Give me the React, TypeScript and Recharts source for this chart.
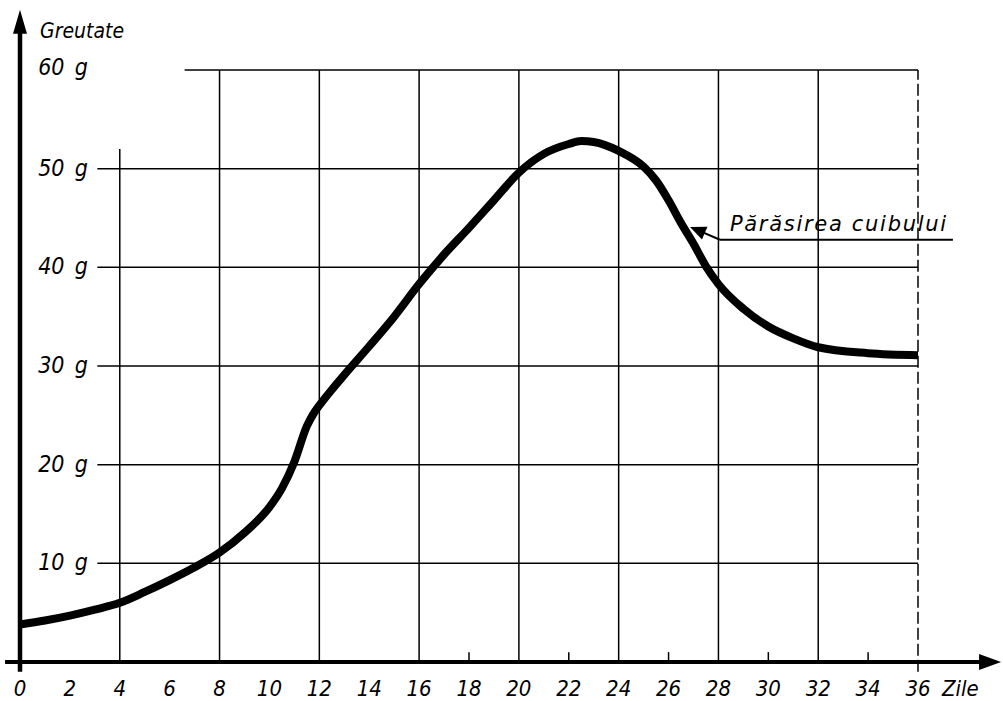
import React from 'react';
import { LineChart, Line, XAxis, YAxis, ReferenceLine } from 'recharts';

// ---- data ----
const days = [0, 1, 2, 3, 4, 5, 6, 7, 8, 9, 10, 10.5, 11, 11.5, 11.75, 12, 12.5, 13, 14, 15, 16, 17, 18, 19, 20, 21, 22, 22.5, 23, 24, 25, 25.5, 26, 26.5, 27, 27.5, 28, 29, 30, 31, 32, 34, 36];
const weights = [3.8, 4.2, 4.7, 5.3, 6.0, 7.1, 8.3, 9.6, 11.1, 13.1, 15.7, 17.6, 20.3, 23.9, 25.1, 26.0, 27.6, 29.1, 32.0, 35.0, 38.3, 41.3, 44.0, 46.8, 49.6, 51.5, 52.5, 52.8, 52.7, 51.8, 50.2, 48.8, 46.8, 44.5, 42.4, 40.1, 38.3, 35.8, 34.0, 32.8, 31.9, 31.3, 31.1];
const xTicks = [0, 2, 4, 6, 8, 10, 12, 14, 16, 18, 20, 22, 24, 26, 28, 30, 32, 34, 36];
const yTicks = [10, 20, 30, 40, 50, 60];
const gridDays = [4, 8, 12, 16, 20, 24, 28, 32];
const gridDayTops = [52, 60, 60, 60, 60, 60, 60, 60];
const gridWeightStarts = [3.1, 3.1, 3.1, 3.1, 3.1, 6.6];
const minorTicks = [18, 22, 26, 30, 34];
const xLabel = 'Zile';
const yLabel = 'Greutate';
const annotationText = 'Părăsirea cuibului';
const annotationTip = { x: 26.86, y: 44.1 };
const annotationStart = { x: 28.06, y: 42.8 };
const annotationEnd = { x: 37.4, y: 42.8 };

const data = days.map((d, i) => ({ day: d, g: weights[i] }));

const FONT = "'DejaVu Sans Condensed', 'DejaVu Sans', sans-serif";

const arrowLine = (p: any, width: number, L: number, W: number) => {
  const { x1, y1, x2, y2 } = p;
  const dx = x2 - x1;
  const dy = y2 - y1;
  const len = Math.hypot(dx, dy) || 1;
  const ux = dx / len;
  const uy = dy / len;
  const bx = x2 - ux * L;
  const by = y2 - uy * L;
  const px = -uy;
  const py = ux;
  return (
    <g>
      <line x1={x1} y1={y1} x2={bx + ux * 2} y2={by + uy * 2} stroke="#000" strokeWidth={width} />
      <polygon
        points={`${x2},${y2} ${bx + px * W},${by + py * W} ${bx - px * W},${by - py * W}`}
        fill="#000"
      />
    </g>
  );
};

const XTick = (props: any) => {
  const { x, y, payload } = props;
  return (
    <g>
      <text x={x} y={y + 34} textAnchor="middle" fontFamily={FONT} fontStyle="italic" fontSize={22} fill="#000">
        {payload.value}
      </text>
      {payload.value === 36 ? (
        <text x={x + 24} y={y + 34} textAnchor="start" fontFamily={FONT} fontStyle="italic" fontSize={22} fill="#000">
          {xLabel}
        </text>
      ) : null}
    </g>
  );
};

export default function App() {
  return (
    <div style={{ position: 'absolute', left: 0, top: 0, width: 1003, height: 701, background: '#fff' }}>
      <LineChart width={1003} height={701} data={data} margin={{ top: 70, right: 85, bottom: 0, left: 20 }}>
        <XAxis
          type="number"
          dataKey="day"
          domain={[0, 36]}
          ticks={xTicks}
          interval={0}
          axisLine={false}
          tickLine={false}
          tickSize={0}
          tickMargin={0}
          height={39}
          tick={<XTick />}
        />
        <YAxis
          type="number"
          domain={[0, 60]}
          ticks={yTicks}
          axisLine={false}
          tickLine={false}
          tick={false}
          width={0}
        />
        {yTicks.map((v, i) => (
          <ReferenceLine
            key={'h' + v}
            segment={[{ x: gridWeightStarts[i], y: v }, { x: 36, y: v }]}
            stroke="#000"
            strokeWidth={1.5}
            ifOverflow="visible"
          />
        ))}
        {yTicks.map((v) => (
          <ReferenceLine
            key={'yl' + v}
            segment={[{ x: 0, y: v }, { x: 1, y: v }]}
            ifOverflow="visible"
            shape={(p: any) => (
              <text
                x={p.x1 + 68}
                y={p.y1 + (v === 60 ? 5 : 7)}
                textAnchor="end"
                fontFamily={FONT}
                fontStyle="italic"
                fontSize={23}
                fill="#000"
              >
                {`${v}\u2002g`}
              </text>
            )}
          />
        ))}
        {gridDays.map((d, i) => (
          <ReferenceLine
            key={'v' + d}
            segment={[{ x: d, y: 0 }, { x: d, y: gridDayTops[i] }]}
            stroke="#000"
            strokeWidth={1.5}
            ifOverflow="visible"
          />
        ))}
        <ReferenceLine
          segment={[{ x: 36, y: -1 }, { x: 36, y: 60 }]}
          stroke="#000"
          strokeWidth={1.5}
          strokeDasharray="12 4"
          ifOverflow="visible"
        />
        {minorTicks.map((d) => (
          <ReferenceLine
            key={'m' + d}
            segment={[{ x: d, y: 0 }, { x: d, y: 1 }]}
            stroke="#000"
            strokeWidth={1.5}
            ifOverflow="visible"
          />
        ))}
        {/* x axis with arrow */}
        <ReferenceLine
          segment={[{ x: -0.6, y: 0 }, { x: 39.33, y: 0 }]}
          ifOverflow="visible"
          shape={(p: any) => arrowLine(p, 4, 22, 8)}
        />
        {/* y axis with arrow */}
        <ReferenceLine
          segment={[{ x: 0, y: -1 }, { x: 0, y: 66.1 }]}
          ifOverflow="visible"
          shape={(p: any) => (
            <g>
              {arrowLine(p, 4.5, 24, 7)}
              <text x={p.x2 + 20} y={p.y2 + 28} fontFamily={FONT} fontStyle="italic" fontSize={21} fill="#000">
                {yLabel}
              </text>
            </g>
          )}
        />
        <Line
          type="monotone"
          dataKey="g"
          stroke="#000"
          strokeWidth={8}
          dot={false}
          activeDot={false}
          strokeLinecap="butt"
          strokeLinejoin="round"
          isAnimationActive={false}
        />
        {/* annotation */}
        <ReferenceLine
          segment={[annotationStart, annotationEnd]}
          ifOverflow="visible"
          shape={(p: any) => (
            <g>
              <line x1={p.x1} y1={p.y1} x2={p.x2} y2={p.y2} stroke="#000" strokeWidth={2} />
              <text x={p.x1 + 10} y={p.y1 - 9} fontFamily="'DejaVu Sans', sans-serif" fontStyle="italic" fontSize={21} letterSpacing={1.7} fill="#000">
                {annotationText}
              </text>
            </g>
          )}
        />
        <ReferenceLine
          segment={[annotationStart, annotationTip]}
          ifOverflow="visible"
          shape={(p: any) => arrowLine(p, 2, 16, 7)}
        />
      </LineChart>
    </div>
  );
}
